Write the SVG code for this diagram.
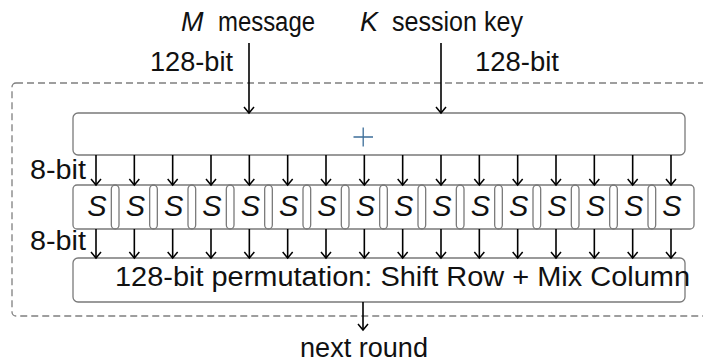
<svg xmlns="http://www.w3.org/2000/svg" width="703" height="364" viewBox="0 0 703 364">
  <style>
    .lbl { font-family: "Liberation Sans", Arial, sans-serif; font-size: 27px; fill: #111; }
    .it { font-style: italic; }
    .sb { font-family: "Liberation Sans", Arial, sans-serif; font-size: 29px; font-style: italic; fill: #111; }
    .box { fill: none; stroke: #7a7a7a; stroke-width: 1.3; }
    .round { fill: none; stroke: #7f7f7f; stroke-width: 1.3; stroke-dasharray: 7 4; }
    .arr { stroke: #000; stroke-width: 1.6; fill: none; marker-end: url(#tip); }
  </style>
  <defs>
    <marker id="tip" markerUnits="userSpaceOnUse" markerWidth="14" markerHeight="14" viewBox="-8 -7 9 14" refX="0" refY="0" orient="auto">
      <path d="M-6,-5 L0,0 L-6,5" fill="none" stroke="#000" stroke-width="1.5"/>
    </marker>
  </defs>

  <rect width="703" height="364" fill="#fff"/>

  <!-- one round: dashed frame -->
  <rect id="round" class="round" x="12" y="83" width="720" height="233" rx="4"/>

  <!-- inputs -->
  <g id="inputs">
    <text class="lbl it" x="181" y="31">M</text>
    <text class="lbl" x="218" y="31" textLength="97" lengthAdjust="spacingAndGlyphs">message</text>
    <text class="lbl it" x="360" y="31">K</text>
    <text class="lbl" x="392" y="31" textLength="131" lengthAdjust="spacingAndGlyphs">session key</text>
    <text class="lbl" x="150" y="71" textLength="83" lengthAdjust="spacingAndGlyphs">128-bit</text>
    <text class="lbl" x="475" y="71" textLength="84" lengthAdjust="spacingAndGlyphs">128-bit</text>
  </g>

  <!-- key addition -->
  <g id="xor">
    <rect class="box" x="73" y="113" width="612" height="42" rx="5"/>
    <path d="M353.5,137 H373 M363.2,127.5 V146.5" stroke="#3d6e99" stroke-width="1.3" fill="none"/>
  </g>

  <!-- S-box layer -->
  <g id="sboxes">
    <g class="box">
      <rect x="73" y="185" width="46" height="44" rx="4"/>
      <rect x="111.33" y="185" width="46" height="44" rx="4"/>
      <rect x="149.67" y="185" width="46" height="44" rx="4"/>
      <rect x="188" y="185" width="46" height="44" rx="4"/>
      <rect x="226.33" y="185" width="46" height="44" rx="4"/>
      <rect x="264.67" y="185" width="46" height="44" rx="4"/>
      <rect x="303" y="185" width="46" height="44" rx="4"/>
      <rect x="341.33" y="185" width="46" height="44" rx="4"/>
      <rect x="379.67" y="185" width="46" height="44" rx="4"/>
      <rect x="418" y="185" width="46" height="44" rx="4"/>
      <rect x="456.33" y="185" width="46" height="44" rx="4"/>
      <rect x="494.67" y="185" width="46" height="44" rx="4"/>
      <rect x="533" y="185" width="46" height="44" rx="4"/>
      <rect x="571.33" y="185" width="46" height="44" rx="4"/>
      <rect x="609.67" y="185" width="46" height="44" rx="4"/>
      <rect x="648" y="185" width="46" height="44" rx="4"/>
    </g>
    <g class="sb" text-anchor="middle">
      <text x="97" y="216">S</text>
      <text x="135.33" y="216">S</text>
      <text x="173.67" y="216">S</text>
      <text x="212" y="216">S</text>
      <text x="250.33" y="216">S</text>
      <text x="288.67" y="216">S</text>
      <text x="327" y="216">S</text>
      <text x="365.33" y="216">S</text>
      <text x="403.67" y="216">S</text>
      <text x="442" y="216">S</text>
      <text x="480.33" y="216">S</text>
      <text x="518.67" y="216">S</text>
      <text x="557" y="216">S</text>
      <text x="595.33" y="216">S</text>
      <text x="633.67" y="216">S</text>
      <text x="672" y="216">S</text>
    </g>
  </g>

  <!-- linear layer -->
  <g id="permutation">
    <rect class="box" x="73" y="258" width="612" height="44" rx="5"/>
    <text class="lbl" x="115" y="286" textLength="575" lengthAdjust="spacingAndGlyphs">128-bit permutation: Shift Row + Mix Column</text>
  </g>

  <g id="labels">
    <text class="lbl" x="30" y="179" textLength="56" lengthAdjust="spacingAndGlyphs">8-bit</text>
    <text class="lbl" x="30" y="250" textLength="56" lengthAdjust="spacingAndGlyphs">8-bit</text>
    <text class="lbl" x="300" y="357" textLength="128" lengthAdjust="spacingAndGlyphs">next round</text>
  </g>

  <!-- connectors -->
  <g id="connectors">
    <line class="arr" x1="249" y1="43" x2="249" y2="113"/>
    <line class="arr" x1="441" y1="43" x2="441" y2="113"/>
    <line class="arr" x1="363" y1="302" x2="363" y2="330"/>

    <line class="arr" x1="96" y1="155" x2="96" y2="185"/>
    <line class="arr" x1="134.33" y1="155" x2="134.33" y2="185"/>
    <line class="arr" x1="172.67" y1="155" x2="172.67" y2="185"/>
    <line class="arr" x1="211" y1="155" x2="211" y2="185"/>
    <line class="arr" x1="249.33" y1="155" x2="249.33" y2="185"/>
    <line class="arr" x1="287.67" y1="155" x2="287.67" y2="185"/>
    <line class="arr" x1="326" y1="155" x2="326" y2="185"/>
    <line class="arr" x1="364.33" y1="155" x2="364.33" y2="185"/>
    <line class="arr" x1="402.67" y1="155" x2="402.67" y2="185"/>
    <line class="arr" x1="441" y1="155" x2="441" y2="185"/>
    <line class="arr" x1="479.33" y1="155" x2="479.33" y2="185"/>
    <line class="arr" x1="517.67" y1="155" x2="517.67" y2="185"/>
    <line class="arr" x1="556" y1="155" x2="556" y2="185"/>
    <line class="arr" x1="594.33" y1="155" x2="594.33" y2="185"/>
    <line class="arr" x1="632.67" y1="155" x2="632.67" y2="185"/>
    <line class="arr" x1="671" y1="155" x2="671" y2="185"/>

    <line class="arr" x1="96" y1="229" x2="96" y2="258"/>
    <line class="arr" x1="134.33" y1="229" x2="134.33" y2="258"/>
    <line class="arr" x1="172.67" y1="229" x2="172.67" y2="258"/>
    <line class="arr" x1="211" y1="229" x2="211" y2="258"/>
    <line class="arr" x1="249.33" y1="229" x2="249.33" y2="258"/>
    <line class="arr" x1="287.67" y1="229" x2="287.67" y2="258"/>
    <line class="arr" x1="326" y1="229" x2="326" y2="258"/>
    <line class="arr" x1="364.33" y1="229" x2="364.33" y2="258"/>
    <line class="arr" x1="402.67" y1="229" x2="402.67" y2="258"/>
    <line class="arr" x1="441" y1="229" x2="441" y2="258"/>
    <line class="arr" x1="479.33" y1="229" x2="479.33" y2="258"/>
    <line class="arr" x1="517.67" y1="229" x2="517.67" y2="258"/>
    <line class="arr" x1="556" y1="229" x2="556" y2="258"/>
    <line class="arr" x1="594.33" y1="229" x2="594.33" y2="258"/>
    <line class="arr" x1="632.67" y1="229" x2="632.67" y2="258"/>
    <line class="arr" x1="671" y1="229" x2="671" y2="258"/>
  </g>
</svg>
